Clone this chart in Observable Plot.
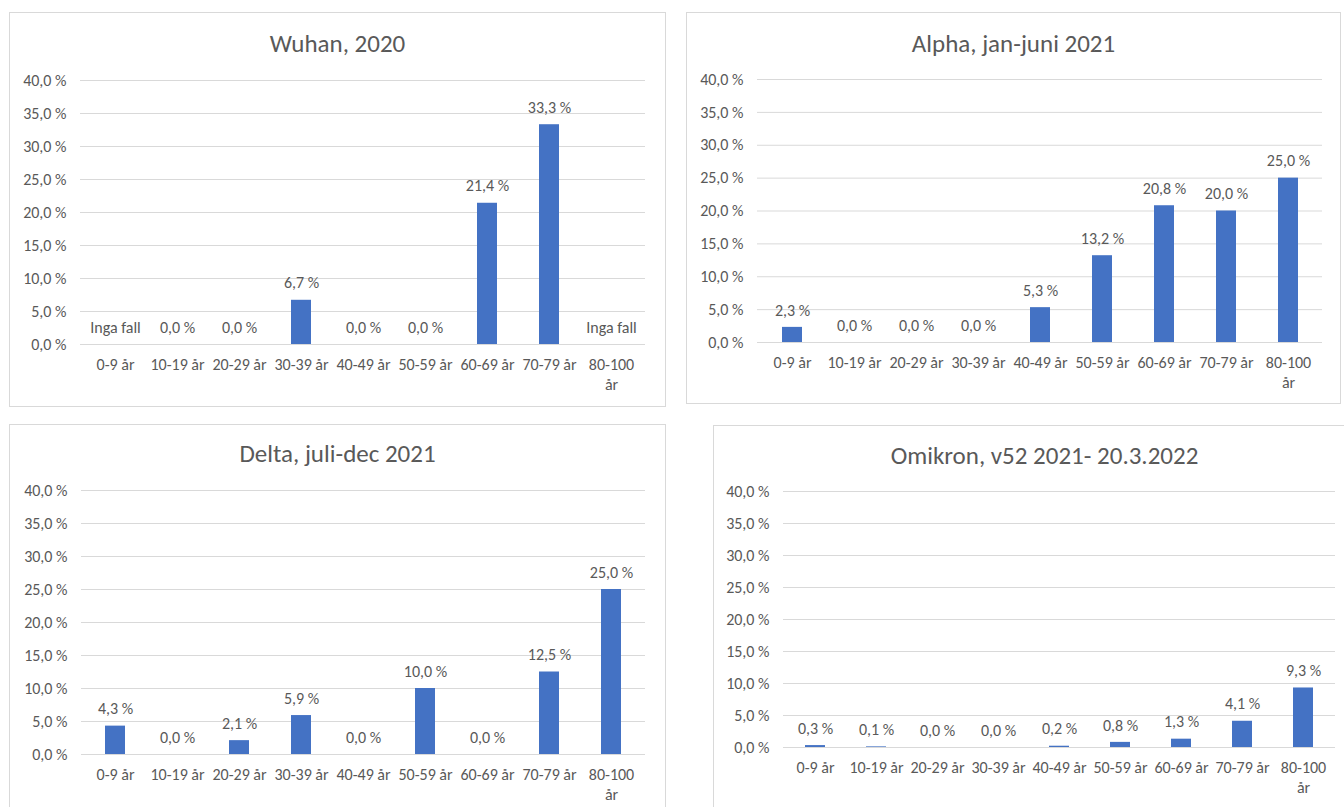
<!DOCTYPE html>
<html>
<head>
<meta charset="utf-8">
<script src="https://cdn.jsdelivr.net/npm/d3@7"></script>
<script src="https://cdn.jsdelivr.net/npm/@observablehq/plot@0.6"></script>
<style>
  html, body { margin: 0; padding: 0; background: #fff; overflow: hidden; }
  #root { position: relative; width: 1344px; height: 807px; overflow: hidden; font-family: Carlito, Lato, sans-serif; }
  .panel { position: absolute; box-sizing: border-box; border: 1px solid #d9d9d9; background: #fff; }
  .panel svg { position: absolute; left: 0; top: 0; overflow: visible; }
  .title { position: absolute; left: 0; right: 0; text-align: center; color: #595959; font-size: 25px; line-height: 30px; white-space: nowrap; }
</style>
</head>
<body>
<div id="root"></div>
<script>
// ---- data ----
const ageGroups = ["0-9 år", "10-19 år", "20-29 år", "30-39 år", "40-49 år", "50-59 år", "60-69 år", "70-79 år", "80-100 år"];
const ageTickLabels = ["0-9 år", "10-19 år", "20-29 år", "30-39 år", "40-49 år", "50-59 år", "60-69 år", "70-79 år", "80-100\når"];
const wuhanValues = [null, 0.0, 0.0, 6.7, 0.0, 0.0, 21.4, 33.3, null];
const alphaValues = [2.3, 0.0, 0.0, 0.0, 5.3, 13.2, 20.8, 20.0, 25.0];
const deltaValues = [4.3, 0.0, 2.1, 5.9, 0.0, 10.0, 0.0, 12.5, 25.0];
const omikronValues = [0.3, 0.1, 0.0, 0.0, 0.2, 0.8, 1.3, 4.1, 9.3];
const panelTitles = ["Wuhan, 2020", "Alpha, jan-juni 2021", "Delta, juli-dec 2021", "Omikron, v52 2021- 20.3.2022"];
const yTicks = [0, 5, 10, 15, 20, 25, 30, 35, 40];
const noCasesLabel = "Inga fall";

// ---- layout ----
const layouts = [
  {values: wuhanValues,   left: 9,   top: 12,  w: 657, h: 395, mL: 70, mR: 20, mT: 67, mB: 62, titleY: 16},
  {values: alphaValues,   left: 686, top: 12,  w: 655, h: 392, mL: 70, mR: 18, mT: 66, mB: 61, titleY: 16},
  {values: deltaValues,   left: 9,   top: 424, w: 657, h: 400, mL: 71, mR: 20, mT: 65, mB: 69, titleY: 14},
  {values: omikronValues, left: 713, top: 425, w: 663, h: 400, mL: 69, mR: 40, mT: 65, mB: 77, titleY: 15}
];

const FS = 16;
const fmt = v => v.toFixed(1).replace(".", ",") + " %";
const root = document.getElementById("root");

layouts.forEach((L, i) => {
  const data = ageGroups.map((g, k) => ({age: g, value: L.values[k]}));
  const panel = document.createElement("div");
  panel.className = "panel";
  Object.assign(panel.style, {left: L.left + "px", top: L.top + "px", width: L.w + "px", height: L.h + "px"});
  const innerW = L.w - 2, innerH = L.h - 2;
  const chart = Plot.plot({
    width: innerW,
    height: innerH,
    marginLeft: L.mL,
    marginRight: L.mR,
    marginTop: L.mT,
    marginBottom: L.mB,
    style: {fontFamily: "Carlito, Lato, sans-serif", fontSize: FS + "px", color: "#595959", background: "transparent", overflow: "visible"},
    x: {domain: ageGroups, paddingInner: 0.68, paddingOuter: 0.34, label: null},
    y: {domain: [0, 40], label: null},
    marks: [
      Plot.gridY(yTicks, {stroke: "#d9d9d9", strokeOpacity: 1, strokeWidth: 1}),
      Plot.axisY(yTicks, {tickSize: 0, tickPadding: 14, tickFormat: fmt, fill: "#595959", fontSize: FS, label: null}),
      Plot.axisX({tickSize: 0, tickPadding: 11, tickFormat: d => ageTickLabels[ageGroups.indexOf(d)], fill: "#595959", fontSize: FS, lineHeight: 1.25, label: null}),
      Plot.barY(data.filter(d => d.value != null), {x: "age", y: "value", fill: "#4472c4"}),
      Plot.text(data, {
        x: "age",
        y: d => d.value == null ? 0 : d.value,
        text: d => d.value == null ? noCasesLabel : fmt(d.value),
        dy: -17,
        fill: "#595959",
        fontSize: FS
      })
    ]
  });
  panel.appendChild(chart);
  const t = document.createElement("div");
  t.className = "title";
  t.style.top = L.titleY + "px";
  t.textContent = panelTitles[i];
  panel.appendChild(t);
  root.appendChild(panel);
});
</script>
</body>
</html>
